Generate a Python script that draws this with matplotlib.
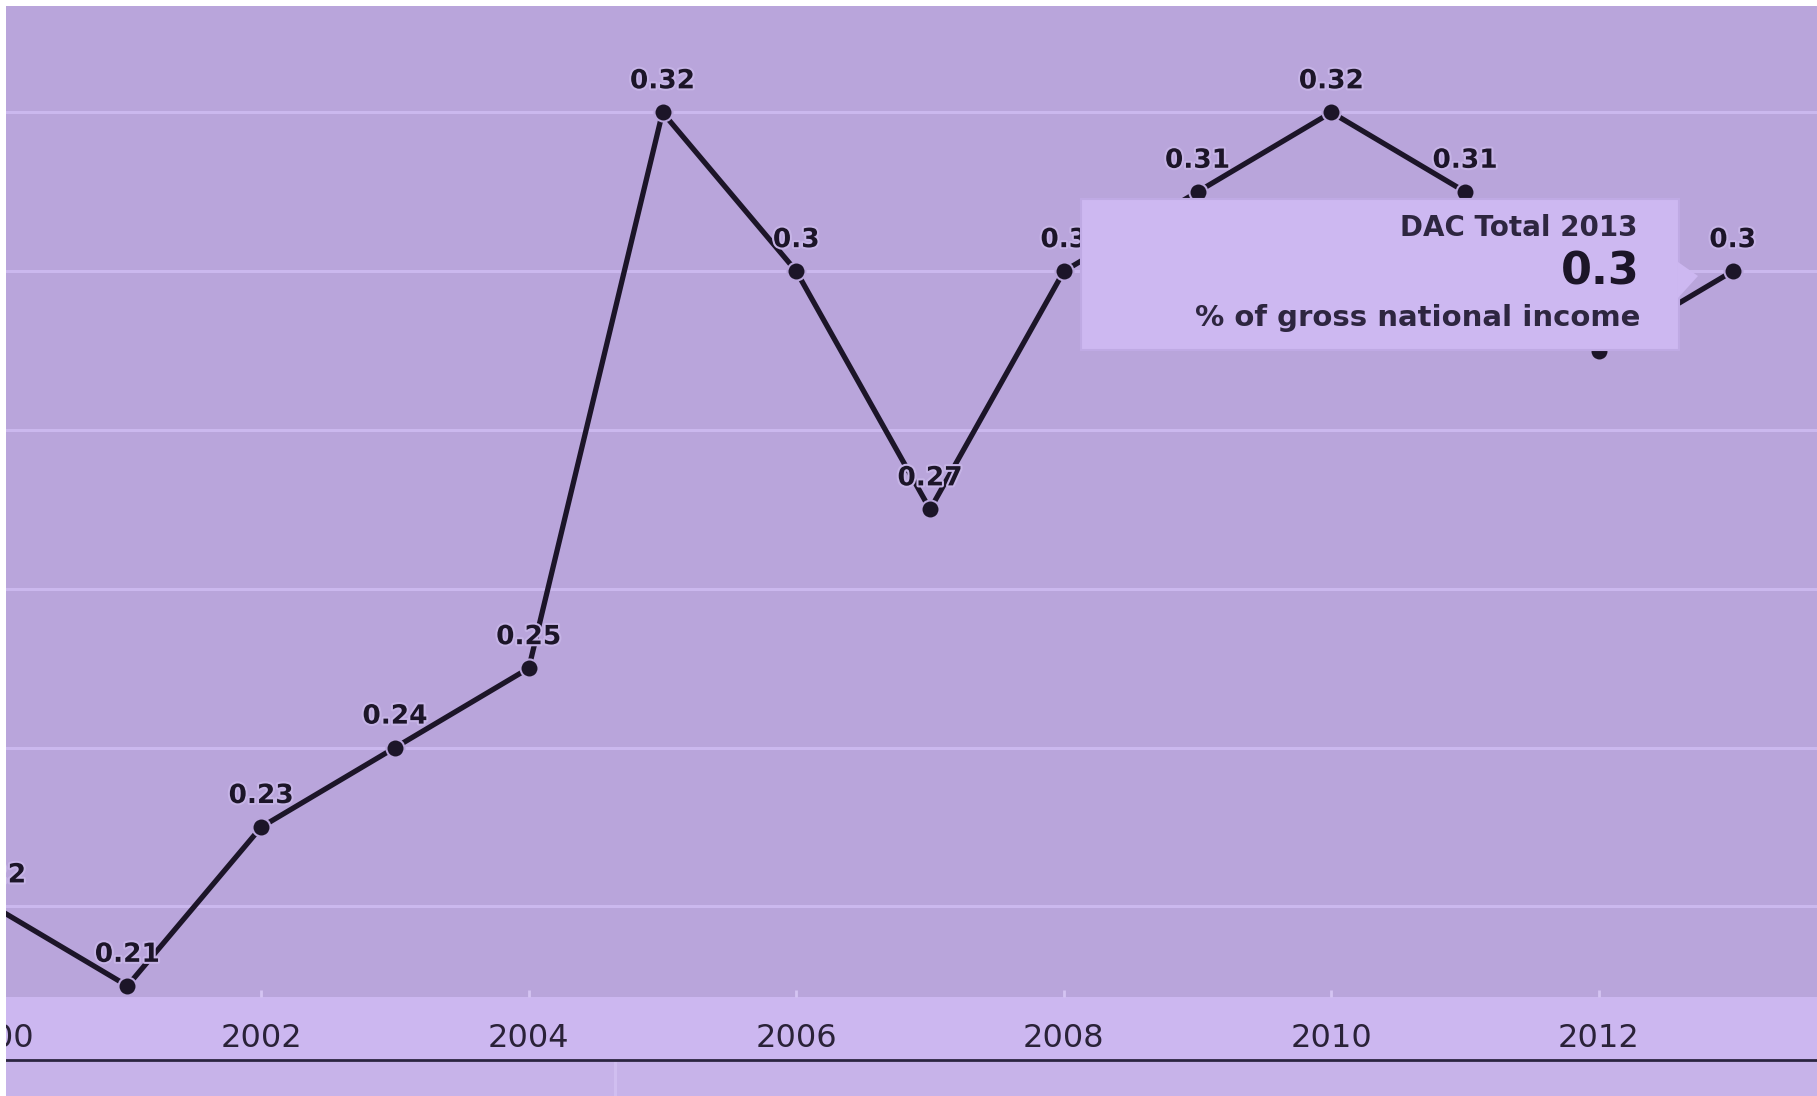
import matplotlib
matplotlib.use('Agg')
import matplotlib.pyplot as plt
import matplotlib.patheffects as pe
from matplotlib.patches import Rectangle, Polygon
from matplotlib.lines import Line2D

# DAC total ODA, % of gross national income
years = [2000, 2001, 2002, 2003, 2004, 2005, 2006, 2007, 2008, 2009, 2010, 2011, 2012, 2013]
values = [0.22, 0.21, 0.23, 0.24, 0.25, 0.32, 0.30, 0.27, 0.30, 0.31, 0.32, 0.31, 0.29, 0.30]
labels = ['0.22', '0.21', '0.23', '0.24', '0.25', '0.32', '0.3', '0.27', '0.3', '0.31', '0.32', '0.31', '0.29', '0.3']
xticks = [2000, 2002, 2004, 2006, 2008, 2010, 2012]
gridlines = [0.22, 0.24, 0.26, 0.28, 0.30, 0.32]

tip_title = 'DAC Total 2013'
tip_value = '0.3'
tip_unit = '% of gross national income'

W, H = 1817, 1096
bg = '#b9a5db'
band = '#ccb7f0'
below = '#c7b3e9'
ink = '#1c1528'

fig = plt.figure(figsize=(W / 100, H / 100), dpi=100)
fig.patch.set_facecolor(band)

def px(x0, y0, x1, y1):
    # pixel box (from top-left) -> figure fraction rect
    return [x0 / W, 1 - y1 / H, (x1 - x0) / W, (y1 - y0) / H]

ax = fig.add_axes(px(-20, 6, W, 997))
ax.set_facecolor(bg)
ax.set_xlim(1999.898, 2013.63)
ax.set_ylim(0.2086, 0.3334)
for s in ax.spines.values():
    s.set_visible(False)

for g in gridlines:
    ax.axhline(g, color='#cbb8ee', lw=2.2, zorder=1)

ax.plot(years, values, color=ink, lw=3.8, zorder=3,
        marker='o', markersize=13, markerfacecolor=ink,
        markeredgecolor=bg, markeredgewidth=1.5)

halo = [pe.withStroke(linewidth=3, foreground='#c6b4e6')]
for x, v, t in zip(years, values, labels):
    tx = ax.annotate(t, (x, v), xytext=(0, 13), textcoords='offset points',
                     ha='center', va='bottom', fontsize=19, fontweight='bold',
                     color=ink, zorder=4, path_effects=halo)
    tx.set_clip_on(True)

ax.set_xticks(xticks)
ax.set_xticklabels([str(t) for t in xticks])
ax.set_yticks([])
ax.tick_params(axis='x', direction='in', length=5, width=2, color='#d4c4f2',
               pad=19, labelsize=23, labelcolor='#2a2238')

# tooltip box
tip = Rectangle((1081 / W, 1 - 350 / H), (1679 - 1081) / W, (350 - 199) / H,
                transform=fig.transFigure, facecolor='#cdb8f1',
                edgecolor='#bfaae4', lw=1.5, zorder=20)
fig.patches.append(tip)
arrow = Polygon([(1678 / W, 1 - 262 / H), (1698 / W, 1 - 276 / H), (1678 / W, 1 - 298 / H)],
                closed=True, transform=fig.transFigure, facecolor='#cdb8f1',
                edgecolor='none', zorder=20)
fig.patches.append(arrow)
fig.text(1637 / W, 1 - 228 / H, tip_title, ha='right', va='center', fontsize=20,
         fontweight='bold', color='#2e2640', zorder=21)
fig.text(1640 / W, 1 - 272 / H, tip_value, ha='right', va='center', fontsize=32,
         fontweight='bold', color='#1c1528', zorder=21)
fig.text(1640 / W, 1 - 318 / H, tip_unit, ha='right', va='center', fontsize=21,
         fontweight='bold', color='#2e2640', zorder=21)

# bottom strip under the axis band
fig.patches.append(Rectangle((0, 0), 1, (H - 1061) / H, transform=fig.transFigure,
                             facecolor=below, edgecolor='none', zorder=15))
fig.patches.append(Rectangle((614 / W, 0), 3 / W, (H - 1062) / H, transform=fig.transFigure,
                             facecolor='#d0bef0', edgecolor='none', zorder=16))
fig.lines.append(Line2D([0, 1], [1 - 1060 / H, 1 - 1060 / H], transform=fig.transFigure,
                        color='#2b2540', lw=2, zorder=17))

# white frame at top and left
fig.patches.append(Rectangle((0, 0), 6 / W, 1, transform=fig.transFigure,
                             facecolor='white', edgecolor='none', zorder=30))
fig.patches.append(Rectangle((0, 1 - 6 / H), 1, 6 / H, transform=fig.transFigure,
                             facecolor='white', edgecolor='none', zorder=30))

fig.savefig('out.png', dpi=100, facecolor=fig.get_facecolor())
